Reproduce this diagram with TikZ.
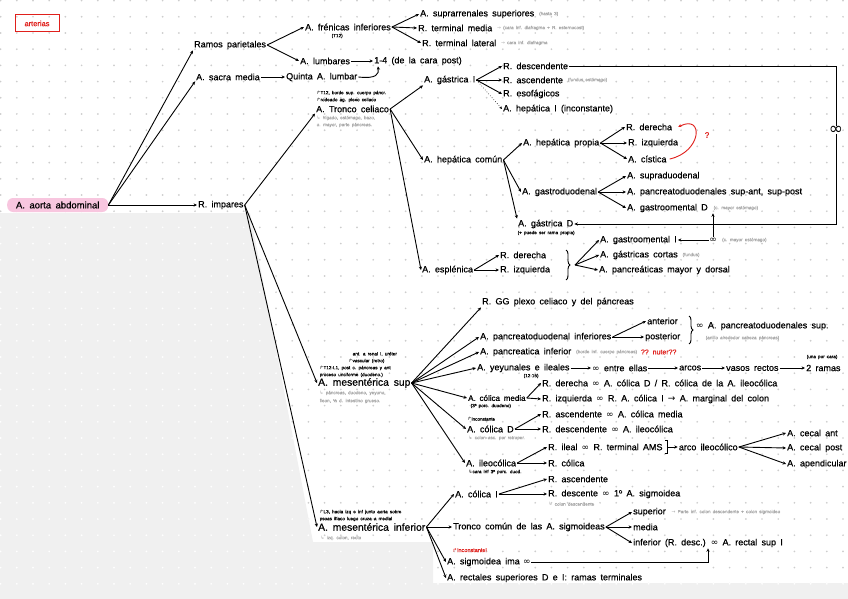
\documentclass[tikz,border=0pt]{standalone}
\usepackage{fontspec}
\setmainfont{Liberation Sans}[WordSpace=1.7,FakeBold=0.6]
\newfontfamily\symf{DejaVu Sans}
\usetikzlibrary{arrows.meta,decorations.pathreplacing,calc}
\definecolor{pinkc}{HTML}{F8C6DF}
\definecolor{redc}{HTML}{E0201C}
\definecolor{notegray}{HTML}{A8A8A8}
\definecolor{bggray}{HTML}{F0F0F0}
\definecolor{dotc}{HTML}{CDCDCD}
\newcommand\inff{{\symf ∞}}
\newcommand\rar{{\symf →}}
\newcommand\hk{{\symf ↳}}
\newcommand\uhk{{\symf ↱}}
\tikzset{
  lbl/.style={anchor=west, inner sep=1pt, font=\fontsize{9}{10}\selectfont},
  big/.style={lbl, font=\fontsize{10.3}{11}\selectfont},
  tiny/.style={anchor=west, inner sep=0.5pt, font=\fontsize{4.6}{5}\selectfont},
  note/.style={tiny, text=notegray},
  sym/.style={inner sep=0.5pt, font=\symf\fontsize{9}{9}\selectfont},
  con/.style={line width=0.9pt, -{Stealth[length=3.4pt,width=3.2pt]}},
  plain/.style={line width=0.9pt},
}
\begin{document}
\begin{tikzpicture}[x=1pt,y=-1pt]
\useasboundingbox (0,0) rectangle (848,599);
\fill[white] (0,0) rectangle (848,599);
% dot grid
\foreach \i in {0,...,52}{\foreach \j in {0,...,37}{\fill[dotc] (\i*16.2+0.6,\j*16.2+0.6) circle[radius=0.95pt];}}
\fill[bggray] (0,213) -- (250,213) -- (313,542) -- (433,542) -- (433,583) -- (848,583) -- (848,599) -- (0,599) -- cycle;
\begin{scope}
\clip (0,213) -- (250,213) -- (313,542) -- (433,542) -- (433,583) -- (848,583) -- (848,599) -- (0,599) -- cycle;
\foreach \i in {0,...,52}{\foreach \j in {13,...,37}{\fill[white] (\i*16.2+0.6,\j*16.2+0.6) circle[radius=0.95pt];}}
\end{scope}

% title
\node[draw=redc, line width=1pt, text=redc, font=\fontsize{7.5}{8}\selectfont, minimum width=44pt, minimum height=17pt, inner sep=1pt] (title) at (37,23.5) {arterias};

% root
\node[lbl, fill=pinkc, rounded corners=6pt, minimum height=14pt, minimum width=101pt, font=\fontsize{9.5}{10}\selectfont] (aorta) at (7,205) {A. aorta abdominal};
\node[lbl] (impares) at (197,205) {R. impares};

% parietales
\node[lbl] (ramos) at (193,45) {Ramos parietales};
\node[lbl] (sacra) at (195,77) {A. sacra media};
\node[lbl] (quinta) at (285,77) {Quinta A. lumbar};
\node[lbl] (fren) at (304,27) {A. frénicas inferiores};
\node[tiny] (t12) at (331,36) {(T12)};
\node[lbl] (lumb) at (299,61) {A. lumbares};
\node[lbl] (l14) at (373,61) {1-4 (de la cara post)};
\node[lbl] (supra) at (419,14) {A. suprarrenales superiores};
\node[note] (supran) at ([xshift=3pt]supra.east) {(hasta 3)};
\node[lbl] (rtm) at (417,28) {R. terminal media};
\node[note] (rtmn) at ([xshift=3pt]rtm.east) {\rar\ (cara inf. diafragma + R. esternocost)};
\node[lbl] (rtl) at (421,43) {R. terminal lateral};
\node[note] (rtln) at ([xshift=3pt]rtl.east) {\rar\ cara inf. diafragma};

% tronco celiaco
\node[lbl] (tronco) at (315,109) {A. Tronco celiaco};
\node[tiny] (tr1) at (316,93) {\uhk T12, borde sup. cuerpo páncr.};
\node[tiny] (tr2) at (316,100) {\uhk rodeado ag. plexo celiaco};
\node[note] (tr3) at (316,118) {\hk\ hígado, estómago, bazo,};
\node[note] (tr4) at (316,125) {o. mayor, parte páncreas.};

\node[lbl] (gastI) at (423,80) {A. gástrica I};
\node[lbl] (desc) at (502,66) {R. descendente};
\node[lbl] (asc) at (502,80) {R. ascendente};
\node[note] (ascn) at ([xshift=3pt]asc.east) {(fundus estómago)};
\node[lbl] (esof) at (502,94) {R. esofágicos};
\node[lbl] (hepI) at (502,109) {A. hepática I (inconstante)};
\node[inner sep=0pt, font=\symf\fontsize{17}{17}\selectfont] (inf1) at (836,130) {∞};

\node[lbl] (hepcom) at (423,160) {A. hepática común};
\node[lbl] (hepprop) at (522,143) {A. hepática propia};
\node[lbl] (der) at (625,127) {R. derecha};
\node[lbl] (izq) at (627,143) {R. izquierda};
\node[lbl] (cist) at (627,159) {A. cística};
\node[text=redc, inner sep=0pt, font=\fontsize{8}{8}\selectfont] (qm) at (707,135) {?};
\node[lbl] (gduo) at (521,192) {A. gastroduodenal};
\node[lbl] (supd) at (626,176) {A. supraduodenal};
\node[lbl] (pcsup) at (626,192) {A. pancreatoduodenales sup-ant, sup-post};
\node[lbl] (gomD) at (626,208) {A. gastroomental D};
\node[note] (gomDn) at ([xshift=4pt]gomD.east) {(c. mayor estómago)};
\node[lbl] (gastD) at (517,224) {A. gástrica D};
\node[tiny] (gastDn) at (517,233) {(+ puede ser rama propia)};

\node[lbl] (espl) at (421,270) {A. esplénica};
\node[lbl] (rder) at (499,255) {R. derecha};
\node[lbl] (rizq) at (499,270) {R. izquierda};
\node[lbl] (gomI) at (599,240) {A. gastroomental I};
\node[sym] (inf2) at (713,240) {∞};
\node[note] (gomIn) at ([xshift=4pt]inf2.east) {(c. mayor estómago)};
\node[lbl] (cortas) at (599,255) {A. gástricas cortas};
\node[note] (cortasn) at ([xshift=3pt]cortas.east) {(fundus)};
\node[lbl] (pmay) at (598,270) {A. pancreáticas mayor y dorsal};
\coordinate (b1t) at (566,250);
\coordinate (b1b) at (566,280);
\coordinate (b1) at (575,265);

% mesenterica sup
\node[big] (msup) at (317,383) {A. mesentérica sup};
\node[tiny] (ms1) at (352,354) {ant. a renal I, uréter};
\node[tiny] (ms2) at (348,361) {\uhk vascular (retro)};
\node[tiny] (ms3) at (319,368) {\uhk T12-L1, post c. páncreas y ant};
\node[tiny] (ms4) at (319,375) {proceso unciforme (duodeno.)};
\node[note] (ms5) at (319,393) {\hk\ páncreas, duodeno, yeyuno,};
\node[note] (ms6) at (319,401) {íleon, ½ d. intestino grueso.};

\node[lbl] (gg) at (481,302) {R. GG plexo celiaco y del páncreas};
\node[lbl] (pinf) at (479,337) {A. pancreatoduodenal inferiores};
\node[lbl] (ant) at (646,321) {anterior};
\node[lbl] (post) at (644,337) {posterior};
\coordinate (b2t) at (689,316);
\coordinate (b2b) at (689,344);
\node[lbl] (pcs2) at (695,326) {\inff\ A. pancreatoduodenales sup.};
\node[note] (pcs2n) at (705,338) {(anillo alrededor cabeza páncreas)};
\node[lbl] (pancinf) at (479,352) {A. pancreatica inferior};
\node[note] (pancinfn) at ([xshift=3pt]pancinf.east) {(borde inf. cuerpo páncreas)};
\node[lbl, text=redc, font=\fontsize{7}{8}\selectfont] (nuter) at ([xshift=2pt]pancinfn.east) {?? nuter??};
\node[lbl] (yey) at (476,368) {A. yeyunales e ileales};
\node[tiny] (yeyn) at (523,376) {(12-15)};
\node[lbl] (entre) at (591,368) {\inff\ entre ellas};
\node[lbl] (arcos) at (678,368) {arcos};
\node[lbl] (vasos) at (725,368) {vasos rectos};
\node[lbl] (ramas) at (805,368) {2 ramas};
\node[tiny] (ramasn) at (806,357) {(una por cara)};

\node[lbl, font=\fontsize{8}{9}\selectfont] (cmed) at (467,398) {A. cólica media};
\node[tiny] (cmedn) at (470,406) {(3ª porc. duodeno)};
\node[lbl] (rder2) at (541,383) {R. derecha \inff\ A. cólica D / R. cólica de la A. ileocólica};
\node[lbl] (rizq2) at (541,399) {R. izquierda \inff\ R. A. cólica I \rar\ A. marginal del colon};
\node[lbl] (cD) at (466,429) {A. cólica D};
\node[tiny] (cDn1) at (467,419) {\uhk inconstante};
\node[note] (cDn2) at (468,438) {\hk\ colon asc. por retroper.};
\node[lbl] (rasc) at (541,414) {R. ascendente \inff\ A. cólica media};
\node[lbl] (rdesc) at (541,429) {R. descendente \inff\ A. ileocólica};
\node[lbl] (ileo) at (465,463) {A. ileocólica};
\node[tiny] (ileon) at (468,472) {\hk cara inf 3ª porc. duod.};
\node[lbl] (rileal) at (547,447) {R. ileal \inff\ R. terminal AMS};
\node[lbl] (rcol) at (547,463) {R. cólica};
\coordinate (brk) at ([xshift=4pt]rileal.east);
\node[lbl] (arco) at ([xshift=10pt]brk) {arco ileocólico};
\node[lbl] (cant) at (786,433) {A. cecal ant};
\node[lbl] (cpost) at (786,448) {A. cecal post};
\node[lbl] (apend) at (786,464) {A. apendicular};

% mesenterica inf
\node[big] (minf) at (317,527) {A. mesentérica inferior};
\node[tiny] (mi1) at (319,512) {\uhk L3, hacia izq e inf junto aorta sobre};
\node[tiny] (mi2) at (319,519) {psoas ilíaco luego cruza a medial};
\node[note] (mi3) at (320,538) {\hk\ izq. colon, recto};
\node[lbl] (cI) at (454,494) {A. cólica I};
\node[lbl] (rasc3) at (547,479) {R. ascendente};
\node[lbl] (rdes3) at (547,494) {R. descente \inff\ 1º A. sigmoidea};
\node[note] (rdes3n) at (548,504) {\hk\ colon descendente};
\node[lbl] (tcom) at (452,527) {Tronco común de las A. sigmoideas};
\node[lbl] (sup) at (632,512) {superior};
\node[note] (supn) at ([xshift=4pt]sup.east) {\rar\ Parte inf. colon descendente + colon sigmoideo};
\node[lbl] (media) at (632,527) {media};
\node[lbl] (inferior) at (632,543) {inferior (R. desc.) \inff\ A. rectal sup I};
\node[lbl] (ima) at (446,562) {A. sigmoidea ima};
\node[sym] (inf3) at ([xshift=6pt]ima.east) {∞};
\node[tiny, text=redc, font=\fontsize{5.5}{6}\selectfont] (imared) at (452,550) {\uhk inconstante!};
\node[lbl] (rect) at (446,578) {A. rectales superiores D e I: ramas terminales};

% ---------- connectors ----------
\draw[con] (aorta.east) -- (ramos.south west);
\draw[con] (aorta.east) -- (sacra.south west);
\draw[con] (aorta.east) -- (impares.west);
\draw[con] (impares.east) -- (tronco.south west);
\draw[con] (impares.east) -- (msup.west);
\draw[con] (impares.east) -- (minf.west);

\draw[con] (ramos.east) -- (fren.west);
\draw[con] (ramos.east) -- (lumb.west);
\draw[con] (fren.east) -- (supra.west);
\draw[con] (fren.east) -- (rtm.west);
\draw[con] (fren.east) -- (rtl.west);
\draw[con] (lumb.east) -- (l14.west);
\draw[con] (sacra.east) -- (quinta.west);
\draw[con] (quinta.east) .. controls (377,79) and (379,74) .. ([xshift=5pt]l14.south west);

\draw[con] (tronco.east) -- (gastI.south west);
\draw[con] (tronco.east) -- (hepcom.west);
\draw[con] (tronco.east) -- (espl.west);
\draw[con] (gastI.east) -- (desc.west);
\draw[con] (gastI.east) -- (asc.west);
\draw[con] (gastI.east) -- (esof.west);
\draw[line width=0.6pt, dotted, -{Stealth[length=3pt,width=2.8pt]}] (gastI.east) -- (hepI.west);
\draw[plain] (desc.east) -- (desc.east -| inf1.north) -- (inf1.north);
\draw[con] (inf1.south) |- (gastD.east);

\draw[con] (hepcom.east) -- (hepprop.west);
\draw[con] (hepcom.east) -- (gduo.west);
\draw[con] (hepcom.east) -- (gastD.north west);
\draw[con] (hepprop.east) -- (der.west);
\draw[con] (hepprop.east) -- (izq.west);
\draw[con] (hepprop.east) -- (cist.west);
\draw[redc, line width=0.9pt, -{Stealth[length=3.4pt,width=3.2pt]}] ([xshift=2pt]cist.east) .. controls (702,152) and (704,114) .. ([xshift=5pt]der.east);
\draw[con] (gduo.east) -- (supd.west);
\draw[con] (gduo.east) -- (pcsup.west);
\draw[con] (gduo.east) -- (gomD.west);
\draw[con] (inf2.west) -- (gomI.east);
\draw[con] (inf2.north) -- (inf2.north |- gomD.south);

\draw[con] (espl.east) -- (rder.west);
\draw[con] (espl.east) -- (rizq.west);
\draw[plain, decorate, decoration={brace, amplitude=4pt}] (b1t) -- (b1b);
\draw[con] (b1) -- (gomI.west);
\draw[con] (b1) -- (cortas.west);
\draw[con] (b1) -- (pmay.west);

\draw[con] (msup.east) -- (gg.south west);
\draw[con] (msup.east) -- (pinf.west);
\draw[con] (msup.east) -- (pancinf.west);
\draw[con] (msup.east) -- (yey.west);
\draw[con] (msup.east) -- (cmed.west);
\draw[con] (msup.east) -- (cD.west);
\draw[con] (msup.east) -- (ileo.west);
\draw[con] (pinf.east) -- (ant.west);
\draw[con] (pinf.east) -- (post.west);
\draw[plain, decorate, decoration={brace, amplitude=4pt}] (b2t) -- (b2b);
\draw[con] (yey.east) -- (entre.west);
\draw[con] (entre.east) -- (arcos.west);
\draw[con] (arcos.east) -- (vasos.west);
\draw[con] (vasos.east) -- (ramas.west);
\draw[con] (cmed.east) -- (rder2.west);
\draw[con] (cmed.east) -- (rizq2.west);
\draw[con] (cD.east) -- (rasc.west);
\draw[con] (cD.east) -- (rdesc.west);
\draw[con] (ileo.east) -- (rileal.west);
\draw[con] (ileo.east) -- (rcol.west);
\draw[plain] ([xshift=-3pt,yshift=-6pt]brk) -- ([yshift=-6pt]brk) -- ([yshift=7pt]brk) -- ([xshift=-3pt,yshift=7pt]brk);
\draw[con] (brk) -- (arco.west);
\draw[con] (arco.east) -- (cant.west);
\draw[con] (arco.east) -- (cpost.west);
\draw[con] (arco.east) -- (apend.west);

\draw[con] (minf.east) -- (cI.west);
\draw[con] (minf.east) -- (tcom.west);
\draw[con] (minf.east) -- (ima.west);
\draw[con] (minf.east) -- (rect.west);
\draw[con] (cI.east) -- (rasc3.west);
\draw[con] (cI.east) -- (rdes3.west);
\draw[con] (tcom.east) -- (sup.west);
\draw[con] (tcom.east) -- (media.west);
\draw[con] (tcom.east) -- (inferior.west);
\draw[con] (inf3.east) -| (inferior.south);
\end{tikzpicture}
\end{document}
